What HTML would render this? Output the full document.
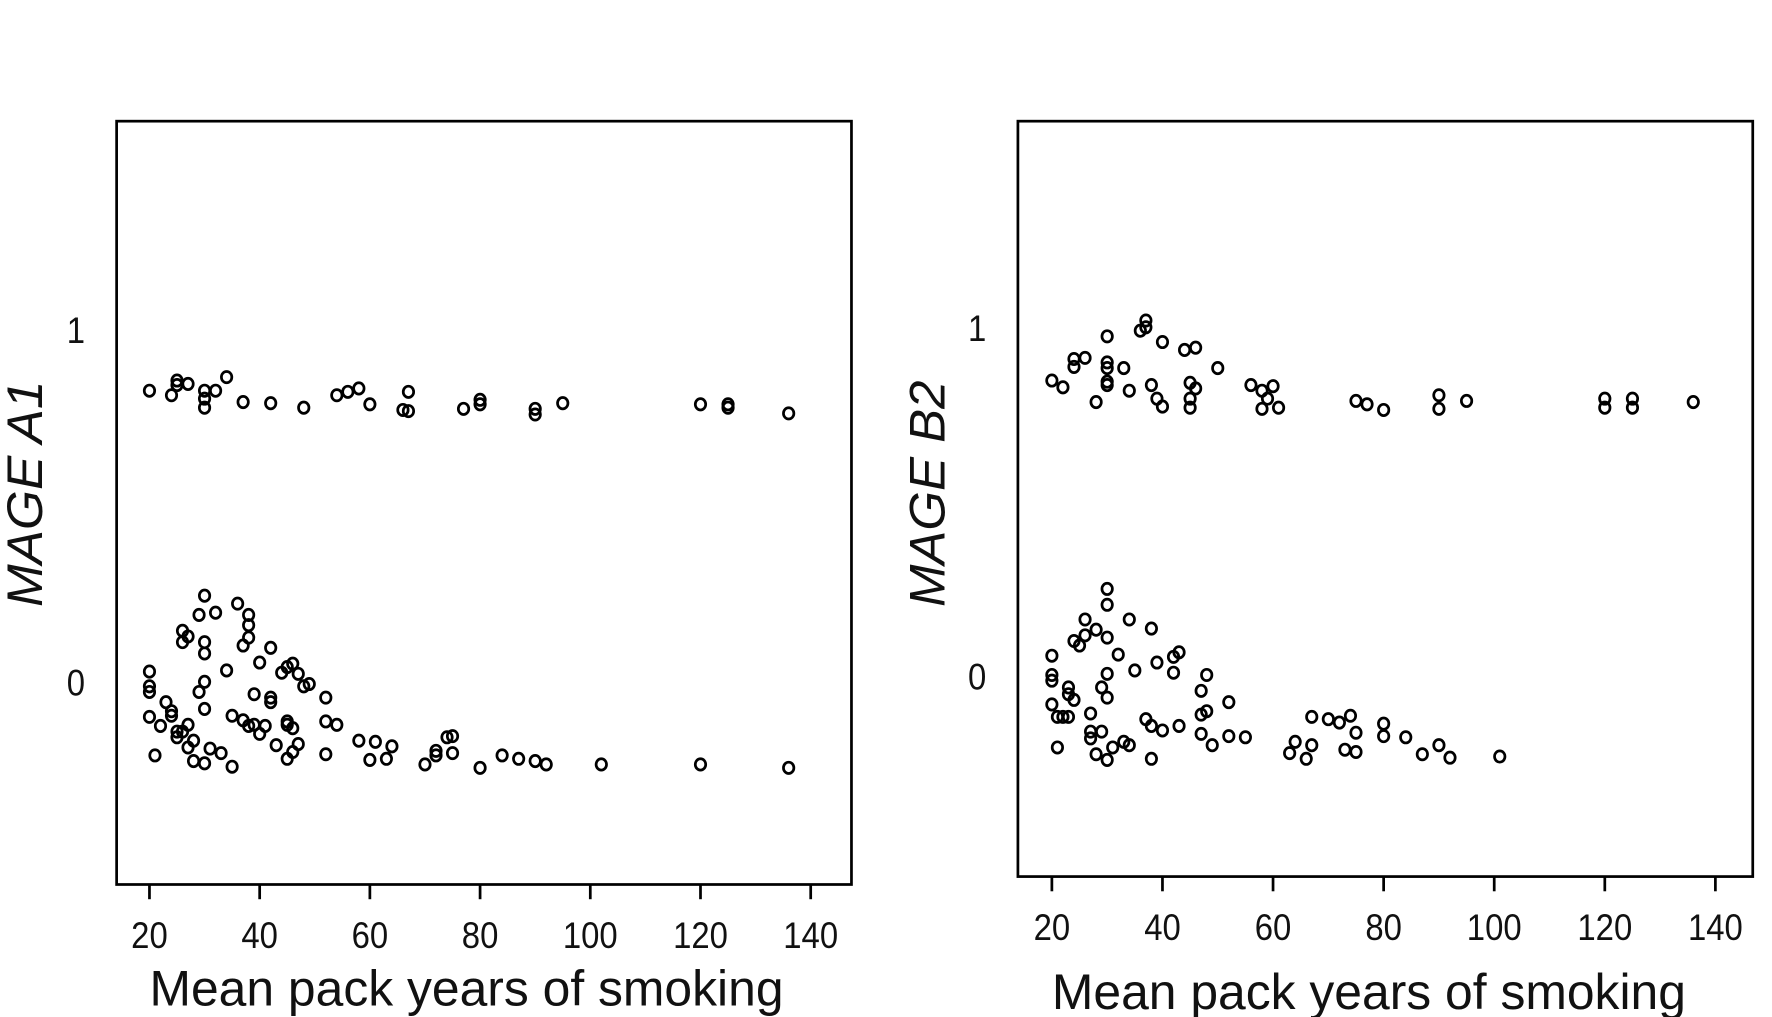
<!DOCTYPE html>
<html><head><meta charset="utf-8"><style>
html,body{margin:0;padding:0;background:#fff;}
svg{display:block;}
text{font-family:"Liberation Sans",sans-serif;fill:#111;}
</style></head><body>
<svg id="chart" width="1772" height="1017" viewBox="0 0 1565 898" preserveAspectRatio="none" xmlns="http://www.w3.org/2000/svg"></svg>
<script>
const xTicks=[20,40,60,80,100,120,140];
const yTicks=[0,1];
const a1UpperX=[20,24,25,25,27,30,30,30,32,34,37,42,48,54,56,58,60,66,67,67,77,80,80,90,90,95,120,125,125,136];
const a1UpperPy=[345,349,336,340,339,345,352,360,345,333,355,356,360,349,346,343,357,362,346,363,361,353,357,361,366,356,357,357,360,365];
const a1LowerX=[20,20,20,20,21,22,23,24,24,25,25,26,26,26,27,27,27,28,28,29,29,30,30,30,30,30,30,31,32,33,34,35,35,36,37,37,38,38,38,38,39,39,40,40,41,42,42,42,43,44,45,45,45,45,46,46,46,47,47,48,49,52,52,52,54,58,60,61,63,64,70,72,72,74,75,75,80,84,87,90,92,102,120,136];
const a1LowerPy=[593,606,611,633,667,641,620,628,632,646,651,557,567,646,562,660,640,654,672,611,543,526,567,577,602,626,674,661,541,665,592,632,677,533,570,636,641,543,552,563,613,640,585,648,641,572,616,620,658,594,589,637,640,670,586,643,664,595,657,606,604,616,637,666,640,654,671,655,670,659,675,663,667,651,650,665,678,667,670,672,675,675,675,678];
const b2UpperX=[20,22,24,24,26,28,30,30,30,30,30,33,34,36,37,37,38,39,40,40,44,45,45,45,46,46,50,56,58,58,59,60,61,75,77,80,90,90,95,120,120,125,125,136];
const b2UpperPy=[336,342,317,324,316,355,297,320,325,337,340,325,345,292,283,289,340,352,302,359,309,338,352,360,307,343,325,340,345,361,352,341,360,354,357,362,349,361,354,352,360,352,360,355];
const b2LowerX=[20,20,20,20,21,21,22,23,23,23,24,24,25,26,26,27,27,27,28,28,29,29,30,30,30,30,30,30,31,32,33,34,34,35,37,38,38,38,39,40,42,42,43,43,47,47,47,48,48,49,52,52,55,63,64,66,67,67,70,72,73,74,75,75,80,80,84,87,90,92,101];
const b2LowerPy=[579,596,601,622,660,633,633,607,613,633,566,618,570,547,561,630,646,652,556,666,607,646,520,534,563,595,616,671,660,578,655,547,658,592,635,555,641,670,585,645,580,594,576,641,610,631,648,596,628,658,620,650,651,665,655,670,633,658,635,638,662,632,647,664,639,650,651,666,658,669,668];

const NS="http://www.w3.org/2000/svg";
const svg=document.getElementById('chart');
function mk(tag,attrs,parent){const e=document.createElementNS(NS,tag);for(const k in attrs)e.setAttribute(k,attrs[k]);(parent||svg).appendChild(e);return e;}

function panel(cfg){
  const g=mk('g',{});
  
  
  const xs=v=>cfg.x20+(v-20)*(cfg.x140-cfg.x20)/120;
  const ys=v=>cfg.y0+(cfg.y1-cfg.y0)*v;
  const box=mk('rect',{x:cfg.l,y:cfg.t,width:cfg.r-cfg.l,height:cfg.b-cfg.t,fill:'none',stroke:'#000','stroke-width':2.4},g);
  
  
  xTicks.forEach(v=>{
    const t=mk('line',{x1:xs(v),x2:xs(v),y1:cfg.b,y2:cfg.b+13,stroke:'#000','stroke-width':2.4},g);
    
    
    const lab=mk('text',{x:0,y:0,'text-anchor':'middle','font-size':33,transform:`translate(${xs(v)},${cfg.b+56}) scale(0.88,1)`},g);
    lab.textContent=v;
    
    
  });
  yTicks.forEach(v=>{
    const lab=mk('text',{x:0,y:0,'text-anchor':'middle','font-size':33,transform:`translate(${cfg.l-36},${ys(v)+11}) scale(0.88,1)`},g);
    lab.textContent=v;
    
    
  });
  const xt=mk('text',{x:cfg.xtx-280,y:cfg.xty,'font-size':44,textLength:560,lengthAdjust:'spacingAndGlyphs'},g);
  xt.textContent='Mean pack years of smoking';
  
  
  const yt=mk('text',{x:-100,y:0,'font-size':44,'font-style':'italic',textLength:200,lengthAdjust:'spacingAndGlyphs',transform:`translate(${cfg.ytx},${cfg.yty}) rotate(-90)`},g);
  yt.textContent=cfg.ytitle;
  
  
  cfg.series.forEach(s=>{
    s.x.forEach((xv,i)=>{
      const yv=(cfg.y0-s.py[i])/(cfg.y0-cfg.y1);
      const c=mk('ellipse',{cx:xs(xv),cy:ys(yv),rx:4.6,ry:5.0,fill:'none',stroke:'#000','stroke-width':2.4},g);
      
      
    });
  });
}
panel({name:'panel-mage-a1',l:103,r:752,t:107,b:781,x20:132,x140:716,y0:603,y1:292,xtx:412,xty:888,ytx:37,yty:436,ytitle:'MAGE A1',
  series:[{x:a1UpperX,py:a1UpperPy},{x:a1LowerX,py:a1LowerPy}]});
panel({name:'panel-mage-b2',l:899,r:1548,t:107,b:774,x20:929,x140:1515,y0:598,y1:290,xtx:1209,xty:891,ytx:834,yty:436,ytitle:'MAGE B2',
  series:[{x:b2UpperX,py:b2UpperPy},{x:b2LowerX,py:b2LowerPy}]});
</script>
</body></html>
